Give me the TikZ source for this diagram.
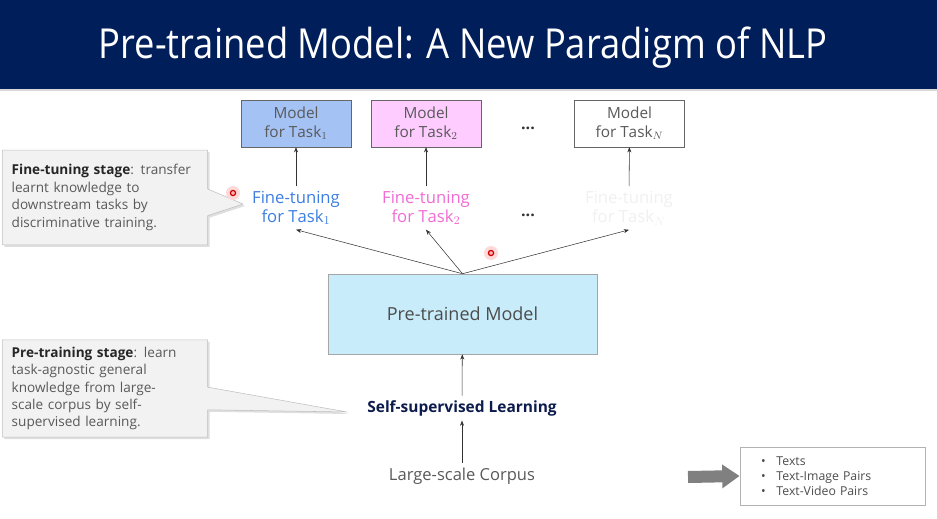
\documentclass[tikz,border=0pt]{standalone}
\usepackage{fontspec}
\setmainfont{Open Sans}
\newfontfamily\titlefont{Open Sans}
\usetikzlibrary{shapes.callouts,shadows,arrows.meta}

\definecolor{BandNavy}{HTML}{001E5A}
\definecolor{TaskOneFill}{HTML}{A4C2F4}
\definecolor{TaskTwoFill}{HTML}{FFCCFF}
\definecolor{PtmFill}{HTML}{C9ECFA}
\definecolor{TaskOneText}{HTML}{3C7EE0}
\definecolor{TaskTwoText}{HTML}{F06CD4}
\definecolor{SslText}{HTML}{0D1B4C}

\tikzset{
  modelbox/.style={draw=gray!80!black, minimum width=82.5pt, minimum height=35pt,
    align=center, inner sep=1pt, font=\fontsize{11.5}{14}\selectfont, text=black!65},
  tunetext/.style={align=center, font=\fontsize{12.5}{14.5}\selectfont},
  dotstext/.style={text=black!80, inner sep=1pt, font=\fontsize{12}{14}\selectfont\bfseries},
  uparrow/.style={-{Stealth[length=4pt,width=3pt]}, gray!40!black, thin},
  notebox/.style={rectangle callout, draw=black!25, fill=black!5,
    drop shadow={opacity=0.25, shadow xshift=1.5pt, shadow yshift=-1.5pt},
    minimum width=153pt, align=left, text width=140pt, inner xsep=7pt,
    font=\fontsize{10.2}{13.1}\selectfont, text=black!65},
  reddot/.style={red!80!black, line width=0.9pt}
}

\begin{document}
\begin{tikzpicture}[x=0.75pt,y=-0.75pt]
  \useasboundingbox (0,0) rectangle (937,518);
  % title band
  \fill[BandNavy] (0,0) rectangle (937,89);
  \fill[black!15] (0,89) rectangle (937,91);
  \node[text=white, font=\titlefont\fontsize{31}{36}\selectfont] (title) at (463,48)
    {\scalebox{0.88}[1]{Pre-trained Model: A New Paradigm of NLP}};

  % task specific models
  \node[modelbox, fill=TaskOneFill] (mone) at (296,123.5) {Model\\for \(\mathrm{Task}_1\)};
  \node[modelbox, fill=TaskTwoFill] (mtwo) at (426,123.5) {Model\\for \(\mathrm{Task}_2\)};
  \node[modelbox, fill=white] (mn) at (629.5,123.5) {Model\\for \(\mathrm{Task}_N\)};
  \node[dotstext] (dotsup) at (528,128) {...};

  % fine-tuning
  \node[tunetext, text=TaskOneText] (ftone) at (296,208) {Fine-tuning\\for \(\mathrm{Task}_1\)};
  \node[tunetext, text=TaskTwoText] (fttwo) at (426,208) {Fine-tuning\\for \(\mathrm{Task}_2\)};
  \node[tunetext, text=black!6] (ftn) at (629,208) {Fine-tuning\\for \(\mathrm{Task}_N\)};
  \node[dotstext] (dotsmid) at (528,215) {...};

  % pre-training
  \node[draw=black!35, fill=PtmFill, minimum width=202pt, minimum height=60pt,
    font=\fontsize{13.5}{16}\selectfont, text=black!70] (ptm) at (462.5,314) {Pre-trained Model};
  \node[text=SslText, font=\fontsize{11.6}{14}\selectfont\bfseries] (ssl) at (462,408) {Self-supervised Learning};
  \node[text=black!65, font=\fontsize{12.4}{14}\selectfont] (corpus) at (462,476) {Large-scale Corpus};

  \draw[uparrow] (ftone) -- (mone);
  \draw[uparrow] (fttwo) -- (mtwo);
  \draw[uparrow] (ftn) -- (mn);
  \foreach \t in {ftone,fttwo,ftn}
    \draw[uparrow] (ptm.north) -- (\t.south);
  \draw[uparrow] (ssl) -- (ptm);
  \draw[uparrow] (corpus) -- (ssl);

  % callouts
  \coordinate (tipft) at (243,204);
  \coordinate (tippt) at (347,412);
  \node[notebox, minimum height=71pt, callout absolute pointer={(tipft)},
    callout pointer width=20pt] (noteft) at (105,197.5)
    {\textbf{\color{black!85}Fine-tuning stage}: transfer\\learnt knowledge to\\downstream tasks by\\discriminative training.};
  \node[notebox, minimum height=73pt, callout absolute pointer={(tippt)},
    callout pointer width=17pt] (notept) at (105,388.5)
    {\textbf{\color{black!85}Pre-training stage}: learn\\task-agnostic general\\knowledge from large-\\scale corpus by self-\\supervised learning.};

  % data kinds
  \node[draw=black!30, minimum width=139pt, minimum height=43.5pt, text width=107pt,
    inner xsep=16pt, align=left, font=\fontsize{9.2}{11.2}\selectfont, text=black!70] (kinds) at (832.5,476)
    {\textbullet\hspace{8pt}Texts\\\textbullet\hspace{8pt}Text-Image Pairs\\\textbullet\hspace{8pt}Text-Video Pairs};
  \coordinate (kindtail) at (688,477);
  \draw[-{Triangle[length=13pt,width=17pt]}, line width=9pt, black!50] (kindtail) -- (kinds.west);

  % pointer dots
  \foreach \p in {(233,193),(491,253)} {
    \fill[red!15] \p circle (7);
    \draw[reddot, fill=red!30] \p circle (2.6);
  }
\end{tikzpicture}
\end{document}
